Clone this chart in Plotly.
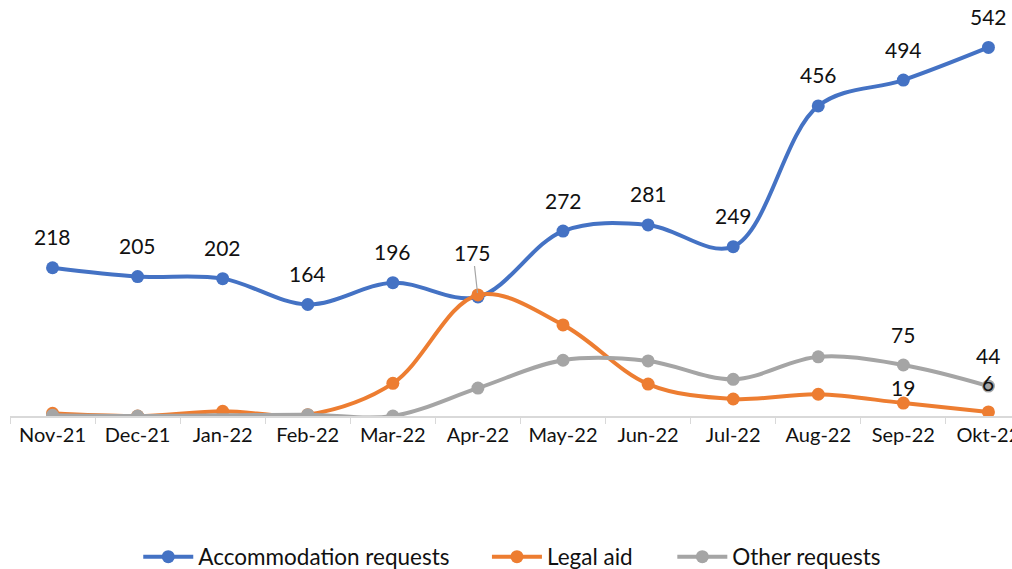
import plotly.graph_objects as go

months = ["Nov-21", "Dec-21", "Jan-22", "Feb-22", "Mar-22", "Apr-22",
          "May-22", "Jun-22", "Jul-22", "Aug-22", "Sep-22", "Okt-22"]
accommodation = [218, 205, 202, 164, 196, 175, 272, 281, 249, 456, 494, 542]
legal_aid = [4, 0, 7, 2, 48, 178, 134, 47, 25, 32, 19, 6]
other = [1, 0, None, 2, 0, 41, 82, 81, 54, 87, 75, 44]

BLUE, ORANGE, GRAY = "#4472C4", "#ED7D31", "#A5A5A5"
FONT = "Lato"
TXT = "#111111"

fig = go.Figure()
series = [("Accommodation requests", accommodation, BLUE, "legend"),
          ("Legal aid", legal_aid, ORANGE, "legend2"),
          ("Other requests", other, GRAY, "legend3")]
for name, vals, col, leg in series:
    fig.add_trace(go.Scatter(
        x=months, y=vals, name=name, mode="lines+markers",
        line=dict(color=col, width=4, shape="spline", smoothing=1),
        marker=dict(color=col, size=13), connectgaps=True, legend=leg,
    ))

annos = []
lab_font = dict(family=FONT, size=21, color=TXT)
for m, v in zip(months, accommodation):
    if m == "Apr-22":
        annos.append(dict(x=m, y=v, text=str(v), showarrow=True, arrowhead=0,
                          arrowwidth=1.2, arrowcolor="#A5A5A5", ax=-5, ay=-45,
                          standoff=4, font=lab_font))
    else:
        annos.append(dict(x=m, y=v, text=str(v), showarrow=False, yshift=31, font=lab_font))
for m, v, shift in [("Sep-22", legal_aid[10], 16), ("Okt-22", legal_aid[11], 29)]:
    annos.append(dict(x=m, y=v, text=str(v), showarrow=False, yshift=shift, font=lab_font))
for m, v in [("Sep-22", other[10]), ("Okt-22", other[11])]:
    annos.append(dict(x=m, y=v, text=str(v), showarrow=False, yshift=31, font=lab_font))

leg_common = dict(orientation="h", yref="container", y=0.021, yanchor="middle", xanchor="left",
                  font=dict(family=FONT, size=22.5, color=TXT), itemwidth=50,
                  bgcolor="rgba(0,0,0,0)")

fig.update_layout(
    width=1012, height=569,
    margin=dict(l=10, r=0, t=8, b=153),
    paper_bgcolor="white", plot_bgcolor="white",
    font=dict(family=FONT, size=20, color=TXT),
    showlegend=True,
    legend=dict(x=0.128, **leg_common),
    legend2=dict(x=0.476, **leg_common),
    legend3=dict(x=0.661, **leg_common),
    annotations=annos,
    xaxis=dict(type="category", range=[-0.5, 11.277], showgrid=False, automargin=False,
               showline=True, linecolor="#D9D9D9", linewidth=1.5,
               ticks="outside", tickson="boundaries", ticklen=6, tickcolor="#D9D9D9",
               tickfont=dict(family=FONT, size=20, color=TXT)),
    yaxis=dict(range=[0, 600], visible=False, showgrid=False, zeroline=False, automargin=False),
)

fig.write_html("out.html", config={"displayModeBar": False},
               post_script="document.body.style.margin='0';document.body.style.overflow='hidden';")
